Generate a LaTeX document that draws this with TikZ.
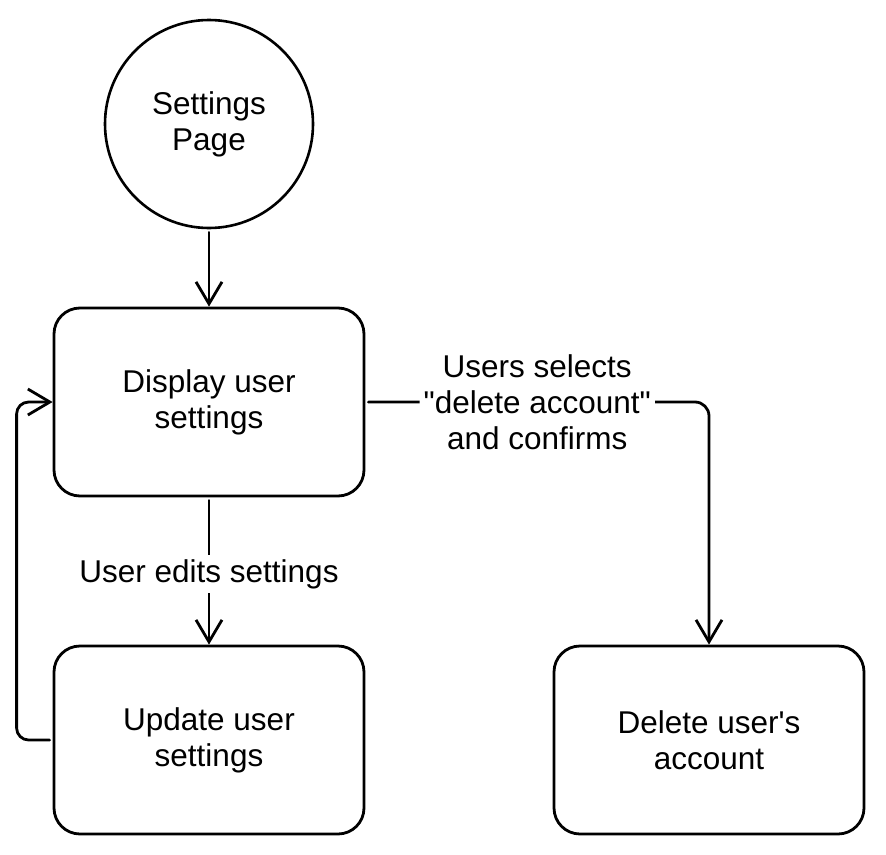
\documentclass[tikz,border=0pt]{standalone}
\usepackage{fontspec}
\setmainfont{Liberation Sans}
\usetikzlibrary{arrows.meta}

\tikzset{
  stepbox/.style={draw, line width=2.8pt, rounded corners=26pt, minimum width=310pt,
    minimum height=188pt, align=center, font=\fontsize{31.5}{36}\selectfont},
  startcircle/.style={draw, circle, line width=2.6pt, minimum size=208pt, inner sep=0pt,
    align=center, font=\fontsize{31.5}{36}\selectfont},
  flow/.style={line width=2.8pt, line cap=round, line join=round,
    -{Straight Barb[length=22pt, width=26pt, line width=2.8pt]}},
  edgelabel/.style={fill=white, inner sep=4pt, align=center,
    font=\fontsize{31.5}{36}\selectfont}
}

\begin{document}
\begin{tikzpicture}[x=1pt, y=-1pt]

    \useasboundingbox (0, 0) rectangle (886, 854);

    \coordinate (PC) at (209, 124);
    \coordinate (DC) at (209, 402);
    \coordinate (UC) at (209, 740);
    \coordinate (XC) at (709, 740);

    \node[startcircle] (page) at (PC) {Settings\\Page};
    \node[stepbox] (display) at (DC) {Display user\\settings};
    \node[stepbox] (update) at (UC) {Update user\\settings};
    \node[stepbox] (delete) at (XC) {Delete user\textquotesingle s\\account};

    \draw[flow, shorten <=3pt] (page) -- (display);
    \draw[flow, shorten <=3pt] (display) --
    node[edgelabel, yshift=-3pt] {User edits settings} (update);

    \draw[flow, rounded corners=14pt, shorten <=3pt] (display.east) --
    node[edgelabel] {Users selects\\\textquotedbl delete account\textquotedbl\\and confirms}
    (display.east -| delete) -- (delete);

    \draw[flow, rounded corners=12pt, shorten <=3pt] (update.west) -- ++(-36, 0)
    |- (display.west);

\end{tikzpicture}
\end{document}
